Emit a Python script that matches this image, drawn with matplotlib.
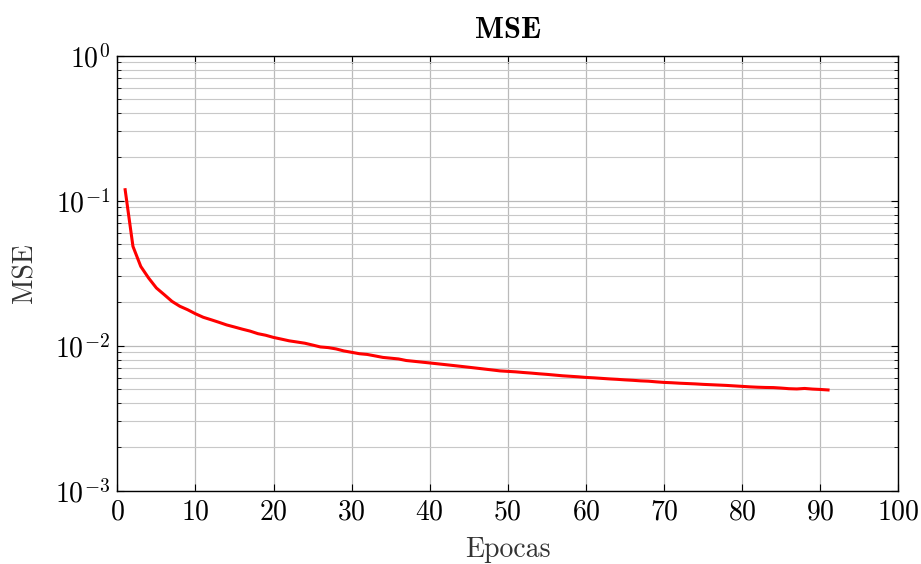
import matplotlib
matplotlib.use("Agg")
import matplotlib.pyplot as plt
from matplotlib.ticker import LogLocator

plt.rcParams['font.family'] = 'serif'
plt.rcParams['font.serif'] = ['cmr10']
plt.rcParams['mathtext.fontset'] = 'cm'
plt.rcParams['axes.formatter.use_mathtext'] = True

epochs = list(range(1, 92))
mse = [
    0.119, 0.0484, 0.0352, 0.0293, 0.0250, 0.0225, 0.0202, 0.0187, 0.0177, 0.0166,
    0.0157, 0.0151, 0.0145, 0.0139, 0.01345, 0.0130, 0.0126, 0.0121, 0.0118, 0.0114,
    0.0111, 0.0108, 0.0106, 0.0104, 0.0101, 0.0098, 0.0097, 0.0095, 0.0092, 0.0090,
    0.0088, 0.0087, 0.0085, 0.0083, 0.0082, 0.0081, 0.0079, 0.0078, 0.0077, 0.0076,
    0.0075, 0.0074, 0.0073, 0.0072, 0.0071, 0.0070, 0.0069, 0.0068, 0.0067, 0.00665,
    0.0066, 0.00653, 0.00647, 0.0064, 0.00634, 0.00627, 0.0062, 0.00615, 0.0061, 0.00604,
    0.0060, 0.00595, 0.0059, 0.00586, 0.00581, 0.00577, 0.00572, 0.00569, 0.00563, 0.00558,
    0.00555, 0.00551, 0.00548, 0.00545, 0.00541, 0.00538, 0.00535, 0.00532, 0.00528, 0.00524,
    0.0052, 0.00517, 0.00515, 0.00514, 0.0051, 0.00505, 0.00503, 0.00507, 0.00502, 0.00499,
    0.00495,
]
x_ticks = list(range(0, 101, 10))

fig = plt.figure(figsize=(9.21, 5.64), dpi=100)
ax = fig.add_axes([0.1274, 0.1300, 0.8480, 0.7713])

ax.plot(epochs, mse, color='#ff0000', linewidth=2.2)

ax.set_yscale('log')
ax.set_xlim(0, 100)
ax.set_ylim(1e-3, 1)
ax.set_xticks(x_ticks)
ax.yaxis.set_major_locator(LogLocator(base=10, numticks=10))
ax.yaxis.set_minor_locator(LogLocator(base=10, subs=range(2, 10), numticks=20))

ax.grid(True, which='major', color='#bababa', linewidth=0.9)
ax.grid(True, which='minor', axis='y', color='#c8c8c8', linewidth=0.8)
ax.set_axisbelow(True)

ax.tick_params(which='both', direction='in', top=True, right=True, labelsize=20)
ax.tick_params(axis='x', which='major', pad=6)
ax.tick_params(axis='y', which='major', pad=5)
ax.tick_params(which='major', length=5, width=0.8)
ax.tick_params(which='minor', length=3, width=0.6)
for s in ax.spines.values():
    s.set_linewidth(1.0)

ax.set_xlabel('Epocas', fontsize=20, color='#333333', labelpad=8)
ax.set_ylabel('MSE', fontsize=20, color='#333333', labelpad=12)
ax.set_title('MSE', fontsize=22, fontfamily='cmb10', pad=13)

fig.savefig('out.png', dpi=100)
